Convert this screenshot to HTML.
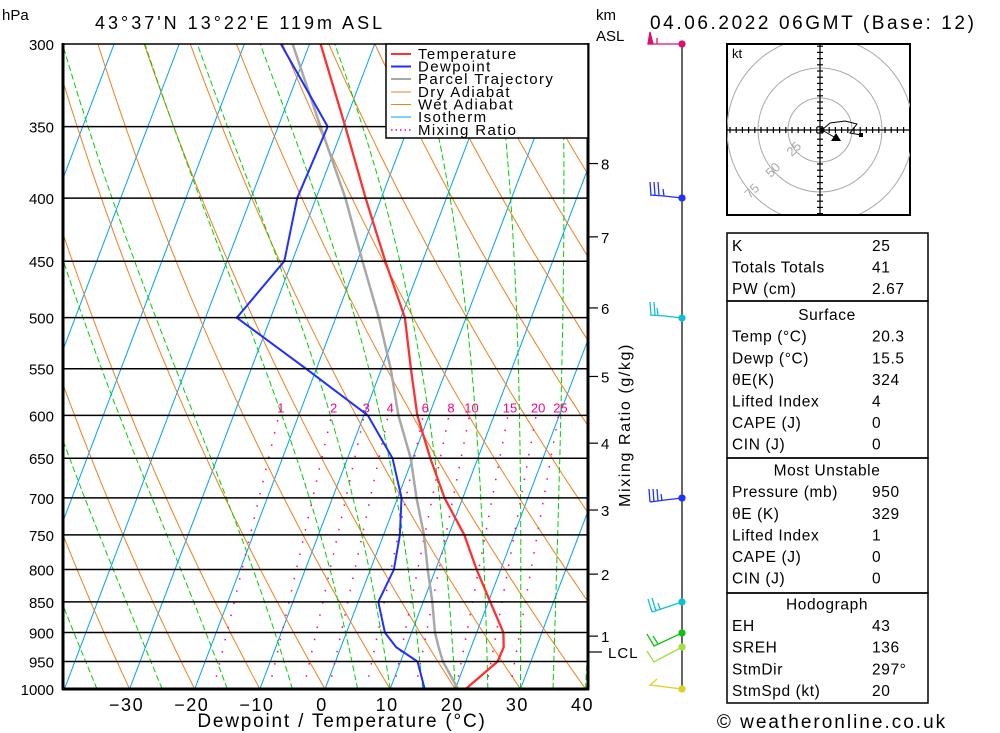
<!DOCTYPE html>
<html><head><meta charset="utf-8"><style>
body{margin:0;background:#fff;}
svg{display:block;font-family:"Liberation Sans",sans-serif;}
</style></head><body>
<svg id="chart" width="1000" height="733" viewBox="0 0 1000 733" xmlns="http://www.w3.org/2000/svg">
<defs><clipPath id="plotclip"><rect x="63" y="44" width="525" height="645"/></clipPath>
<clipPath id="hodoclip"><rect x="727" y="45" width="183" height="169"/></clipPath></defs>
<rect width="1000" height="733" fill="#fff"/>
<text x="2" y="20" font-size="15">hPa</text>
<text x="95" y="29" font-size="18" letter-spacing="3">43°37'N 13°22'E 119m ASL</text>
<text x="596" y="20" font-size="15">km</text>
<text x="596" y="41" font-size="15">ASL</text>
<text x="650" y="29" font-size="19" letter-spacing="2.6">04.06.2022 06GMT (Base: 12)</text>
<g id="bg" clip-path="url(#plotclip)"></g>
<g id="profiles" clip-path="url(#plotclip)"></g>
<g id="axes"></g>
<g id="legend" font-size="15" letter-spacing="1.4">
<rect x="386" y="44" width="202" height="94" fill="#fff" stroke="#000" stroke-width="1.5"/>
<line x1="391" y1="54" x2="411" y2="54" stroke="#ff3030" stroke-width="2"/><text x="418" y="59">Temperature</text>
<line x1="391" y1="66.5" x2="411" y2="66.5" stroke="#2030ff" stroke-width="2"/><text x="418" y="71.5">Dewpoint</text>
<line x1="391" y1="79" x2="411" y2="79" stroke="#a8a8a8" stroke-width="2"/><text x="418" y="84">Parcel Trajectory</text>
<line x1="391" y1="92" x2="411" y2="92" stroke="#f08020" stroke-width="1"/><text x="418" y="97">Dry Adiabat</text>
<line x1="391" y1="104.5" x2="411" y2="104.5" stroke="#f08020" stroke-width="1"/><text x="418" y="109.5">Wet Adiabat</text>
<line x1="391" y1="117" x2="411" y2="117" stroke="#00a0ff" stroke-width="1"/><text x="418" y="122">Isotherm</text>
<line x1="391" y1="130" x2="411" y2="130" stroke="#ff0080" stroke-width="1.5" stroke-dasharray="1.5,3"/><text x="418" y="135">Mixing Ratio</text>
</g>
<text transform="translate(630,425) rotate(-90)" text-anchor="middle" font-size="16" letter-spacing="1.6">Mixing Ratio (g/kg)</text>
<text x="342" y="727" text-anchor="middle" font-size="19" letter-spacing="1.8">Dewpoint / Temperature (°C)</text>
<g id="winds">
<line x1="682" y1="44" x2="682" y2="689" stroke="#000" stroke-width="1.2"/>
<g stroke="#e0106a" fill="#e0106a" stroke-width="1.3"><line x1="682" y1="44" x2="648" y2="44"/><polygon points="648,44 650,32 653,44"/><line x1="657" y1="44" x2="657" y2="38"/><circle cx="682" cy="44" r="3"/></g>
<g stroke="#2030ff" fill="#2030ff" stroke-width="1.3"><polyline fill="none" points="682,198 664,196 650,195"/><line x1="651" y1="195" x2="650" y2="182"/><line x1="655" y1="195" x2="654" y2="182"/><line x1="659" y1="195" x2="658" y2="182"/><line x1="664" y1="196" x2="663" y2="189"/><circle cx="682" cy="198" r="3"/></g>
<g stroke="#10c0d0" fill="#10c0d0" stroke-width="1.3"><polyline fill="none" points="682,318 665,316 650,315"/><line x1="651" y1="315" x2="650" y2="302"/><line x1="655" y1="315" x2="654" y2="302"/><line x1="658" y1="315" x2="657" y2="308"/><circle cx="682" cy="318" r="3"/></g>
<g stroke="#2030ff" fill="#2030ff" stroke-width="1.3"><polyline fill="none" points="682,498 665,500 650,502"/><line x1="650" y1="502" x2="649" y2="489"/><line x1="654" y1="502" x2="653" y2="489"/><line x1="658" y1="501" x2="657" y2="489"/><line x1="662" y1="501" x2="661" y2="494"/><circle cx="682" cy="498" r="3"/></g>
<g stroke="#10c0d0" fill="#10c0d0" stroke-width="1.3"><polyline fill="none" points="682,602 652,612"/><line x1="652" y1="612" x2="648" y2="599"/><line x1="656" y1="611" x2="652" y2="598"/><line x1="660" y1="609" x2="658" y2="603"/><circle cx="682" cy="602" r="3"/></g>
<g stroke="#10c010" fill="#10c010" stroke-width="1.3"><polyline fill="none" points="682,633 654,646 647,634"/><line x1="658" y1="644" x2="653" y2="636"/><circle cx="682" cy="633" r="3"/></g>
<g stroke="#a0e040" fill="#a0e040" stroke-width="1.3"><polyline fill="none" points="682,647 654,662 647,651"/><circle cx="682" cy="647" r="3"/></g>
<g stroke="#e0d020" fill="#e0d020" stroke-width="1.3"><polyline fill="none" points="682,689 650,685 657,679"/><circle cx="682" cy="689" r="3"/></g>
</g>
<g id="hodo">
<rect x="727" y="44" width="183" height="171" fill="#fff" stroke="#000" stroke-width="2"/>
<g clip-path="url(#hodoclip)" fill="none" stroke="#aaa" stroke-width="1">
<circle cx="820" cy="130" r="32"/><circle cx="820" cy="130" r="62"/><circle cx="820" cy="130" r="93"/>
</g>
<text x="732" y="58" font-size="13">kt</text>
<g fill="#aaa" font-size="13">
<text transform="translate(797,152) rotate(-45)" text-anchor="middle">25</text>
<text transform="translate(776,173) rotate(-45)" text-anchor="middle">50</text>
<text transform="translate(755,194) rotate(-45)" text-anchor="middle">75</text>
</g>
<g id="hodoaxes" stroke="#000" stroke-width="1.2" clip-path="url(#hodoclip)"></g>
<polyline points="822,130 830,123 845,121 857,124 850,133 861,135" fill="none" stroke="#000" stroke-width="1"/>
<polyline points="822,130 834,137" fill="none" stroke="#000" stroke-width="1"/>
<circle cx="822" cy="130" r="2.5"/><rect x="859" y="133" width="4" height="4"/>
<polygon points="836,133 831,141 841,141" fill="#000"/>
</g>
<g id="table" font-size="15.5" letter-spacing="0.6">
<rect x="727" y="233" width="201" height="68" fill="none" stroke="#000" stroke-width="1.5"/>
<rect x="727" y="301" width="201" height="157" fill="none" stroke="#000" stroke-width="1.5"/>
<rect x="727" y="458" width="201" height="135" fill="none" stroke="#000" stroke-width="1.5"/>
<rect x="727" y="593" width="201" height="110" fill="none" stroke="#000" stroke-width="1.5"/>
</g>
<text x="832" y="728" text-anchor="middle" font-size="19" letter-spacing="2">© weatheronline.co.uk</text>
</svg>
<script>
const pressures=[1000,950,925,900,850,800,750,700,650,600,550,500,450,400,350,300];
const tempC=[21.6,24.9,25.0,24.1,20.3,16.3,12.4,7.2,2.7,-1.8,-5.5,-9.4,-15.7,-22.4,-29.7,-38.3];
const dewC=[15.3,12.6,8.5,5.9,3.1,3.6,2.5,0.6,-3.1,-9.4,-21.6,-35.2,-31.2,-32.9,-32.4,-44.4];
const parcelC=[20.4,16.5,15.0,13.6,11.4,8.8,6.2,2.9,-0.3,-4.7,-8.6,-13.4,-19.2,-25.5,-33.5,-42.6];
const isobars=[300,350,400,450,500,550,600,650,700,750,800,850,900,950,1000];
const xTicks=[-30,-20,-10,0,10,20,30,40];
const mixRatios=[1,2,3,4,6,8,10,15,20,25];
const wetStarts=[-35,-25,-15,-5,5,10,15,20,25,30,35,40];
const kmLabels=["8","7","6","5","4","3","2","1"];
const kmPressures=[375,430,491,558,632,716,807,906];
const tableRows=[["K","25"],["Totals Totals","41"],["PW (cm)","2.67"],["#Surface",""],["Temp (°C)","20.3"],["Dewp (°C)","15.5"],["θE(K)","324"],["Lifted Index","4"],["CAPE (J)","0"],["CIN (J)","0"],["#Most Unstable",""],["Pressure (mb)","950"],["θE (K)","329"],["Lifted Index","1"],["CAPE (J)","0"],["CIN (J)","0"],["#Hodograph",""],["EH","43"],["SREH","136"],["StmDir","297°"],["StmSpd (kt)","20"]];
const NS="http://www.w3.org/2000/svg";
function yP(p){return 44+Math.log(p/300)/Math.log(1000/300)*645;}
function xT(t,p){return 325+t*6.514+(689-yP(p))*0.38;}
function mk(tag,attrs,parent){const e=document.createElementNS(NS,tag);for(const k in attrs)e.setAttribute(k,attrs[k]);parent.appendChild(e);return e;}
const bg=document.getElementById('bg'),prof=document.getElementById('profiles'),ax=document.getElementById('axes');
for(let t=-120;t<=40;t+=10){const l=mk('line',{x1:xT(t,1000),y1:yP(1000),x2:xT(t,300),y2:yP(300),stroke:'#00a0ff','stroke-width':1},bg);

}
for(let k=-10;k<=20;k++){const th=273.15+k*10;let pts=[];for(let p=1000;p>=300;p-=10){pts.push(xT(th*Math.pow(p/1000,0.286)-273.15,p).toFixed(1)+','+yP(p).toFixed(1));}
const l=mk('polyline',{points:pts.join(' '),fill:'none',stroke:'#f08020','stroke-width':1},bg);

}
function es(t){return 6.112*Math.exp(17.67*t/(t+243.5));}
for(const t0 of wetStarts){let T=t0+273.15,pts=[];for(let p=1000;p>=300;p-=5){pts.push(xT(T-273.15,p).toFixed(1)+','+yP(p).toFixed(1));
const e=es(T-273.15),rs=0.622*e/(p-e);const dTdp=(287*T+2.5e6*rs)/(1004+2.5e6*2.5e6*rs*0.622/(287*T*T))/p;T-=dTdp*5;}
const l=mk('polyline',{points:pts.join(' '),fill:'none',stroke:'#00d000','stroke-width':1,'stroke-dasharray':'6,3'},bg);

}
function tdw(w,p){const e=w*p/(622+w),L=Math.log(e/6.112);return 243.5*L/(17.67-L);}
for(const w of mixRatios){const l=mk('line',{x1:xT(tdw(w,1000),1000),y1:yP(1000),x2:xT(tdw(w,600),600),y2:yP(600),stroke:'#ff0080','stroke-width':1.5,'stroke-dasharray':'1.5,11'},bg);


const tx=mk('text',{x:xT(tdw(w,600),600)+2,y:yP(600)-3,'font-size':13,fill:'#ff0080','text-anchor':'middle'},bg);tx.textContent=w;

}
for(const p of isobars){const l=mk('line',{x1:63,y1:yP(p),x2:588,y2:yP(p),stroke:'#000','stroke-width':1.5},ax);


const tx=mk('text',{x:54,y:yP(p)+6,'font-size':15,'text-anchor':'end'},ax);tx.textContent=p;

}
function prof1(arr,color,w,name){const pts=pressures.map((p,i)=>xT(arr[i],p).toFixed(1)+','+yP(p).toFixed(1)).join(' ');
const l=mk('polyline',{points:pts,fill:'none',stroke:color,'stroke-width':w},prof);

}
prof1(parcelC,'#a8a8a8',2.5,'parcel-trajectory');
prof1(dewC,'#2030ff',2,'dewpoint-line');
prof1(tempC,'#ff3030',2.3,'temperature-line');
mk('line',{x1:63,y1:43,x2:63,y2:690,stroke:'#000','stroke-width':3},ax);
mk('line',{x1:62,y1:689,x2:589,y2:689,stroke:'#000','stroke-width':3},ax);
mk('line',{x1:588,y1:43,x2:588,y2:690,stroke:'#000','stroke-width':3},ax);
for(const t of xTicks){const tx=mk('text',{x:xT(t,1000)-3,y:711,'font-size':18,'letter-spacing':1.5,'text-anchor':'middle'},ax);tx.textContent=(t<0?'\u2212'+(-t):t);

}
kmLabels.forEach((k,i)=>{const y=yP(kmPressures[i]);mk('line',{x1:588,y1:y,x2:598,y2:y,stroke:'#000','stroke-width':1.2},ax);
const tx=mk('text',{x:601,y:y+6,'font-size':15},ax);tx.textContent=k;

});
{const y=652;mk('line',{x1:588,y1:y,x2:602,y2:y,stroke:'#000','stroke-width':1.2},ax);
const tx=mk('text',{x:608,y:y+6,'font-size':15,'letter-spacing':1},ax);tx.textContent='LCL';

}
const ha=document.getElementById('hodoaxes');
mk('line',{x1:727,y1:130,x2:910,y2:130},ha);mk('line',{x1:820,y1:44,x2:820,y2:215},ha);
for(let d=-90;d<=90;d+=6.2){mk('line',{x1:820+d,y1:127,x2:820+d,y2:133},ha);mk('line',{x1:817,y1:130+d,x2:823,y2:130+d},ha);}
const tb=document.getElementById('table');
let hdr=0;
tableRows.forEach((r,i)=>{if(r[0][0]==='#')hdr++;const y=251+i*21.6+hdr*4.3;
if(r[0][0]==='#'){const tx=mk('text',{x:827,y:y,'text-anchor':'middle'},tb);tx.textContent=r[0].slice(1);

}
else{const a=mk('text',{x:732,y:y},tb);a.textContent=r[0];


const b=mk('text',{x:872,y:y},tb);b.textContent=r[1];

}});
</script>
</body></html>
